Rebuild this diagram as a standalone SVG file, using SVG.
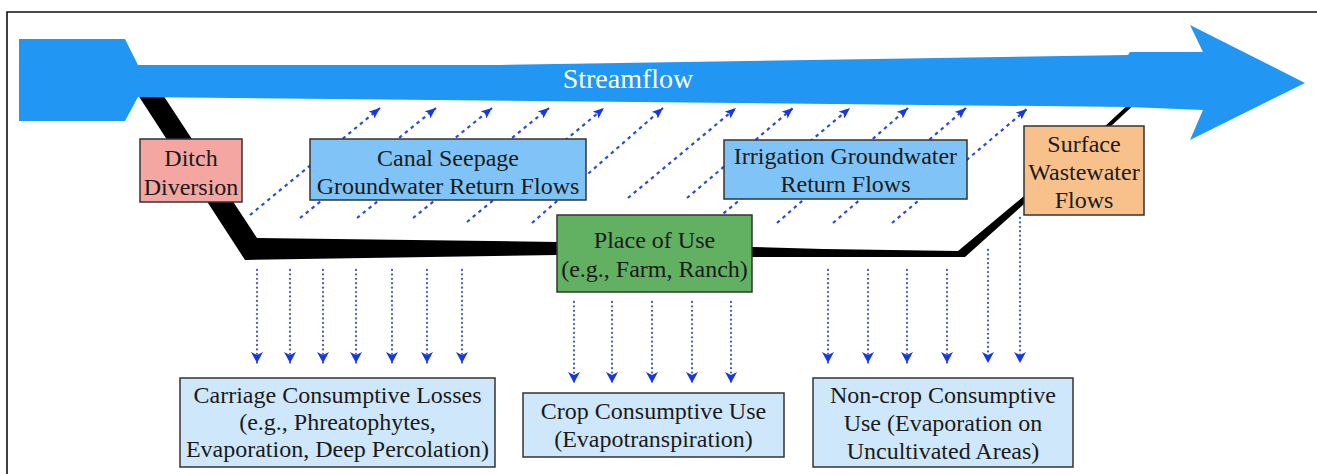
<svg xmlns="http://www.w3.org/2000/svg" width="1317" height="474" viewBox="0 0 1317 474">
<style>
.box{stroke:#333;stroke-width:1.5}
.lbl{font-family:"Liberation Serif","Times New Roman",serif;font-size:24px;fill:#1a1a1a;text-anchor:middle}
.diag{fill:none;stroke:#2C4CD4;stroke-width:2.2;stroke-dasharray:3.5 4;marker-end:url(#ahD)}
.vert{fill:none;stroke:#4B5FB0;stroke-width:2.3;stroke-dasharray:0.01 4.4;stroke-linecap:round;marker-end:url(#ahV)}
.blue{fill:#80C3F7}
.pale{fill:#CFE7FA}
</style>
<defs>
<marker id="ahD" markerWidth="11" markerHeight="9" refX="11" refY="4.5" orient="auto" markerUnits="userSpaceOnUse"><path d="M0,0 L11,4.5 L0,9 L2.5,4.5 Z" fill="#1638E0"/></marker>
<marker id="ahV" markerWidth="11" markerHeight="12" refX="11" refY="6" orient="auto" markerUnits="userSpaceOnUse"><path d="M0,0 L11,6 L0,12 L3,6 Z" fill="#1638E0"/></marker>
</defs>
<rect width="1317" height="474" fill="#fff"/>
<path d="M7,474 V12 H1317" fill="none" stroke="#111" stroke-width="1.6"/>

<g id="connectors">
<path id="canal" d="M138,95 L163,95 L257,238 L557,242 L752,247 L823,249 L958,251 L1024,196 L1024,204 L965,257 L823,257 L752,257 L557,255 L245,260 Z" fill="#000"/>
<line x1="1106" y1="128" x2="1134" y2="102" stroke="#000" stroke-width="4"/>
<path class="diag" d="M250,215 L380,108"/>
<path class="diag" d="M300,218 L436,108"/>
<path class="diag" d="M357,218 L492,108"/>
<path class="diag" d="M413,218 L549,108"/>
<path class="diag" d="M467,222 L604,108"/>
<path class="diag" d="M532,223 L663,108"/>
<path class="diag" d="M628,198 L736,108"/>
<path class="diag" d="M687,198 L793,108"/>
<path class="diag" d="M712,223 L850,108"/>
<path class="diag" d="M777,223 L908,108"/>
<path class="diag" d="M833,223 L966,108"/>
<path class="diag" d="M892,223 L1027,109"/>
<path class="vert" d="M257,270 V363"/>
<path class="vert" d="M290,270 V363"/>
<path class="vert" d="M323,270 V363"/>
<path class="vert" d="M356,270 V363"/>
<path class="vert" d="M392,270 V363"/>
<path class="vert" d="M427,270 V363"/>
<path class="vert" d="M462,270 V363"/>
<path class="vert" d="M574,302 V383"/>
<path class="vert" d="M612,302 V383"/>
<path class="vert" d="M652,302 V383"/>
<path class="vert" d="M692,302 V383"/>
<path class="vert" d="M731,302 V383"/>
<path class="vert" d="M828,270 V363"/>
<path class="vert" d="M868,270 V363"/>
<path class="vert" d="M907,270 V363"/>
<path class="vert" d="M947,270 V363"/>
<path class="vert" d="M988,250 V363"/>
<path class="vert" d="M1020,218 V363"/>
</g>

<g id="streamflow">
<path d="M19,39 L125,39 L138,65 L500,65 L1128,55 L1130,52 L1203,52 L1190,25 L1305,83 L1190,140 L1203,110 L1128,107 L138,97 L125,121 L19,121 Z" fill="#2196F3"/>
<text x="628" y="88" style="font-family:'Liberation Serif','Times New Roman',serif;font-size:28px;fill:#fff;text-anchor:middle">Streamflow</text>
</g>

<g id="ditch-diversion">
<rect class="box" x="140" y="139" width="102" height="63" fill="#F4A6A3"/>
<text class="lbl" x="191" y="166">Ditch</text>
<text class="lbl" x="191" y="195">Diversion</text>
</g>

<g id="canal-seepage">
<rect class="box blue" x="310" y="139" width="276" height="61"/>
<text class="lbl" x="448" y="166">Canal Seepage</text>
<text class="lbl" x="448" y="194">Groundwater Return Flows</text>
</g>

<g id="irrigation-return">
<rect class="box blue" x="724" y="140" width="243" height="59"/>
<text class="lbl" x="845.5" y="164">Irrigation Groundwater</text>
<text class="lbl" x="845.5" y="192">Return Flows</text>
</g>

<g id="surface-wastewater">
<rect class="box" x="1024" y="126" width="120" height="89" fill="#F8C08A"/>
<text class="lbl" x="1084" y="152">Surface</text>
<text class="lbl" x="1084" y="180">Wastewater</text>
<text class="lbl" x="1084" y="208">Flows</text>
</g>

<g id="place-of-use">
<rect class="box" x="557" y="215" width="195" height="77" fill="#62B062"/>
<text class="lbl" x="654.5" y="248">Place of Use</text>
<text class="lbl" x="654.5" y="277">(e.g., Farm, Ranch)</text>
</g>

<g id="carriage-losses">
<rect class="box pale" x="180" y="378" width="315" height="89"/>
<text class="lbl" x="337.5" y="403">Carriage Consumptive Losses</text>
<text class="lbl" x="337.5" y="430">(e.g., Phreatophytes,</text>
<text class="lbl" x="337.5" y="457">Evaporation, Deep Percolation)</text>
</g>

<g id="crop-use">
<rect class="box pale" x="523" y="393" width="261" height="64"/>
<text class="lbl" x="653.5" y="419">Crop Consumptive Use</text>
<text class="lbl" x="653.5" y="447">(Evapotranspiration)</text>
</g>

<g id="noncrop-use">
<rect class="box pale" x="813" y="378" width="260" height="89"/>
<text class="lbl" x="943" y="403">Non-crop Consumptive</text>
<text class="lbl" x="943" y="431">Use (Evaporation on</text>
<text class="lbl" x="943" y="459">Uncultivated Areas)</text>
</g>
</svg>
